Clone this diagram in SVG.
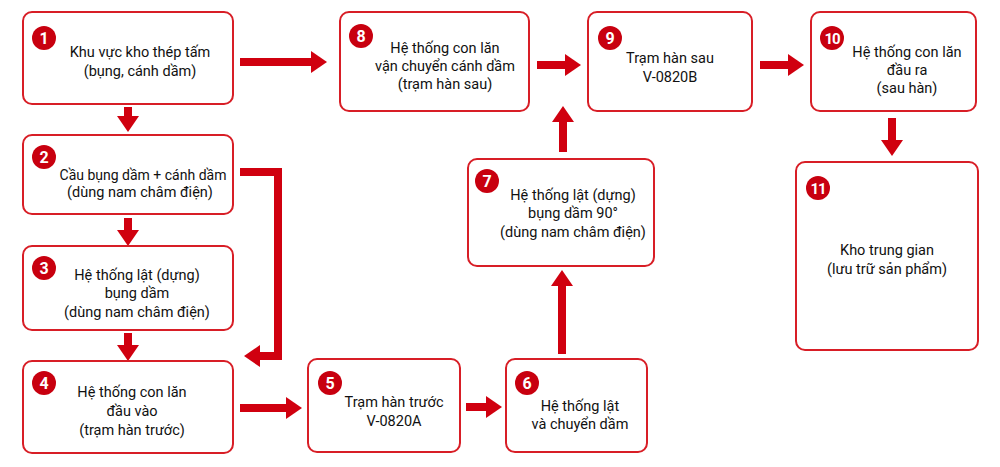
<svg xmlns="http://www.w3.org/2000/svg" width="1000" height="467" viewBox="0 0 1000 467">
<defs>
<style>
.box{fill:#fff;stroke:#d81e26;stroke-width:2}
.t{font-family:Roboto,"Liberation Sans",sans-serif;font-size:14.5px;fill:#111;text-anchor:middle}
.badge{fill:#c8000f}
.num{font-family:Roboto,"Liberation Sans",sans-serif;font-size:16px;font-weight:bold;fill:#fff;text-anchor:middle}
.arr{fill:none;stroke:#d0000f;stroke-width:8;marker-end:url(#ah)}
</style>
<marker id="ah" markerUnits="userSpaceOnUse" markerWidth="16" markerHeight="22" refX="0" refY="11" orient="auto">
<path d="M0,0 L16,11 L0,22 z" fill="#d0000f"/>
</marker>
</defs>
<rect width="1000" height="467" fill="#fff"/>
<g id="connectors">
<path class="arr" d="M240,62 H311"/>
<path class="arr" d="M128,107 V116"/>
<path class="arr" d="M240,172 H278 V356 H260"/>
<path class="arr" d="M128,218 V230"/>
<path class="arr" d="M128,333 V345"/>
<path class="arr" d="M240,408 H286"/>
<path class="arr" d="M466,407 H486"/>
<path class="arr" d="M562,354 V286"/>
<path class="arr" d="M563,152 V122"/>
<path class="arr" d="M537,65 H565"/>
<path class="arr" d="M760,65 H788"/>
<path class="arr" d="M892,118 V140"/>
</g>
<g id="n1"><rect class="box" x="23" y="12" width="210" height="92" rx="9"/><circle class="badge" cx="44" cy="38" r="12"/><text class="num" x="44" y="44">1</text><text class="t" x="140" y="57">Khu vực kho thép tấm</text><text class="t" x="140" y="76">(bụng, cánh dầm)</text></g>
<g id="n2"><rect class="box" x="23" y="135" width="210" height="79" rx="9"/><circle class="badge" cx="44" cy="157" r="12"/><text class="num" x="44" y="163">2</text><text class="t" x="143" y="180" style="font-size:14px">Cầu bụng dầm + cánh dầm</text><text class="t" x="140" y="197">(dùng nam châm điện)</text></g>
<g id="n3"><rect class="box" x="23" y="246" width="210" height="84" rx="9"/><circle class="badge" cx="44" cy="268" r="12"/><text class="num" x="44" y="274">3</text><text class="t" x="137" y="280">Hệ thống lật (dựng)</text><text class="t" x="137" y="298">bụng dầm</text><text class="t" x="137" y="317">(dùng nam châm điện)</text></g>
<g id="n4"><rect class="box" x="23" y="361" width="210" height="92" rx="9"/><circle class="badge" cx="44" cy="383" r="12"/><text class="num" x="44" y="389">4</text><text class="t" x="132" y="397">Hệ thống con lăn</text><text class="t" x="132" y="416">đầu vào</text><text class="t" x="132" y="435">(trạm hàn trước)</text></g>
<g id="n5"><rect class="box" x="308" y="359" width="152" height="93" rx="9"/><circle class="badge" cx="330" cy="383" r="12"/><text class="num" x="330" y="389">5</text><text class="t" x="394" y="407">Trạm hàn trước</text><text class="t" x="394" y="426">V-0820A</text></g>
<g id="n6"><rect class="box" x="506" y="359" width="141" height="93" rx="9"/><circle class="badge" cx="527" cy="383" r="12"/><text class="num" x="527" y="389">6</text><text class="t" x="580" y="411">Hệ thống lật</text><text class="t" x="580" y="429">và chuyển dầm</text></g>
<g id="n7"><rect class="box" x="468" y="159" width="186" height="107" rx="9"/><circle class="badge" cx="487" cy="181" r="12"/><text class="num" x="487" y="187">7</text><text class="t" x="573" y="200">Hệ thống lật (dựng)</text><text class="t" x="573" y="218">bụng dầm 90°</text><text class="t" x="573" y="237">(dùng nam châm điện)</text></g>
<g id="n8"><rect class="box" x="340" y="12" width="189" height="99" rx="9"/><circle class="badge" cx="361" cy="36" r="12"/><text class="num" x="361" y="42">8</text><text class="t" x="445" y="53">Hệ thống con lăn</text><text class="t" x="445" y="71">vận chuyển cánh dầm</text><text class="t" x="445" y="89">(trạm hàn sau)</text></g>
<g id="n9"><rect class="box" x="588" y="12" width="164" height="99" rx="9"/><circle class="badge" cx="610" cy="38" r="12"/><text class="num" x="610" y="44">9</text><text class="t" x="670" y="63">Trạm hàn sau</text><text class="t" x="670" y="82">V-0820B</text></g>
<g id="n10"><rect class="box" x="811" y="12" width="165" height="99" rx="9"/><circle class="badge" cx="832" cy="38" r="12"/><text class="num" x="832" y="44" style="font-size:15px;letter-spacing:-1px">10</text><text class="t" x="907" y="57">Hệ thống con lăn</text><text class="t" x="907" y="75">đầu ra</text><text class="t" x="907" y="93">(sau hàn)</text></g>
<g id="n11"><rect class="box" x="796" y="162" width="182" height="188" rx="9"/><circle class="badge" cx="818" cy="188" r="12"/><text class="num" x="818" y="194" style="font-size:15px;letter-spacing:-1px">11</text><text class="t" x="887" y="255">Kho trung gian</text><text class="t" x="887" y="274">(lưu trữ sản phẩm)</text></g>
</svg>
